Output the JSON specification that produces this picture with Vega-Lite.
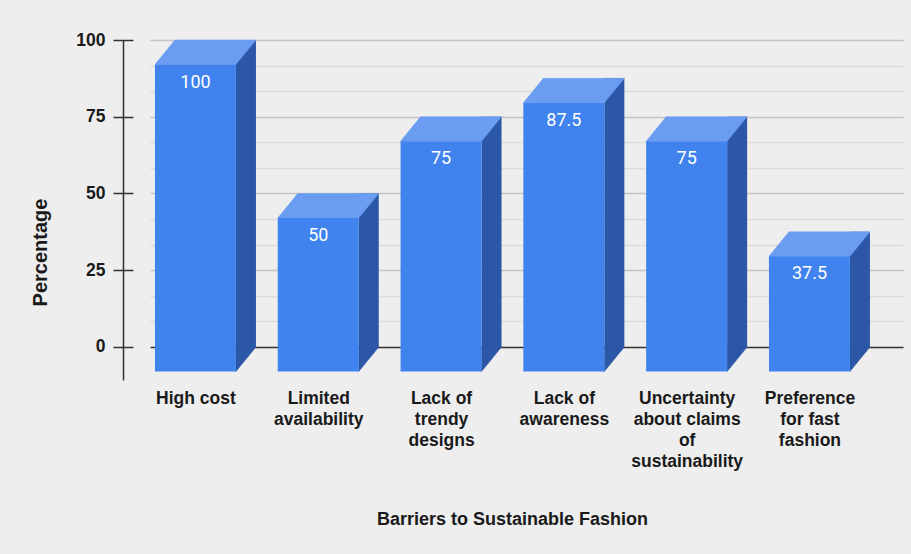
{
  "$schema": "https://vega.github.io/schema/vega-lite/v6.json",
  "width": 753,
  "height": 340,
  "autosize": "none",
  "padding": {"left": 150, "top": 40, "right": 8, "bottom": 174},
  "background": "#eeeeee",
  "config": {"view": {"stroke": null}, "font": "Liberation Sans"},
  "data": {
    "values": [
      {"barrier": "High cost", "percentage": 100},
      {"barrier": "Limited\navailability", "percentage": 50},
      {"barrier": "Lack of\ntrendy\ndesigns", "percentage": 75},
      {"barrier": "Lack of\nawareness", "percentage": 87.5},
      {"barrier": "Uncertainty\nabout claims\nof\nsustainability", "percentage": 75},
      {"barrier": "Preference\nfor fast\nfashion", "percentage": 37.5}
    ]
  },
  "encoding": {
    "x": {
      "field": "barrier",
      "type": "nominal",
      "sort": null,
      "scale": {"type": "point", "padding": 0.566, "align": 0.327},
      "axis": {
        "orient": "bottom",
        "domain": false,
        "ticks": false,
        "grid": false,
        "labelAngle": 0,
        "labelPadding": 9,
        "labelFont": "Liberation Sans",
        "labelFontWeight": "bold",
        "labelFontSize": 17.5,
        "labelColor": "#1a1a1a",
        "labelLineHeight": 21,
        "labelExpr": "split(datum.label, '\\n')",
        "title": "Barriers to Sustainable Fashion",
        "titleFont": "Liberation Sans",
        "titleFontWeight": "bold",
        "titleFontSize": 18,
        "titleColor": "#1a1a1a",
        "titleX": 362,
        "titleY": 144,
        "titleBaseline": "alphabetic",
        "titleAlign": "center"
      }
    },
    "y": {
      "field": "percentage",
      "type": "quantitative",
      "scale": {"domain": [-10.75, 100], "nice": false, "zero": false},
      "axis": {
        "orient": "left",
        "offset": 27,
        "values": [0, 8.333333, 16.666667, 25, 33.333333, 41.666667, 50, 58.333333, 66.666667, 75, 83.333333, 91.666667, 100],
        "labelExpr": "datum.value % 25 == 0 ? datum.label : ''",
        "labelOverlap": false,
        "labelFont": "Liberation Sans",
        "labelFontWeight": "bold",
        "labelFontSize": 17.5,
        "labelColor": "#1a1a1a",
        "labelPadding": 8,
        "tickSize": 10,
        "tickWidth": 1.5,
        "tickColor": "#333333",
        "tickOpacity": {"condition": {"test": "datum.value % 25 == 0", "value": 1}, "value": 0},
        "domainColor": "#333333",
        "domainWidth": 1.5,
        "grid": true,
        "gridWidth": 1.5,
        "gridColor": {
          "condition": [
            {"test": "datum.value == 0", "value": "#333333"},
            {"test": "datum.value % 25 == 0", "value": "#c4c4c4"}
          ],
          "value": "#dcdcdc"
        },
        "encoding": {"ticks": {"x": {"value": 10}, "x2": {"value": -10}}},
        "title": "Percentage",
        "titleFont": "Liberation Sans",
        "titleFontWeight": "bold",
        "titleFontSize": 20,
        "titleColor": "#1a1a1a",
        "titleAngle": -90,
        "titleX": -77,
        "titleY": 212,
        "titleAlign": "center",
        "titleBaseline": "alphabetic"
      }
    }
  },
  "layer": [
    {
      "mark": {"type": "bar", "width": 20, "xOffset": 50.5, "color": "#2b57a6"},
      "encoding": {
        "y2": {"datum": 0}
      }
    },
    {
      "mark": {"type": "point", "shape": "M40.5,0L60.5,0L40.5,24.5Z", "size": 4, "filled": true, "opacity": 1, "color": "#2b57a6", "stroke": "#2b57a6", "strokeWidth": 0.5},
      "encoding": {
        "y": {"datum": 0, "type": "quantitative"}
      }
    },
    {
      "mark": {"type": "point", "shape": "M-40.5,24.5L40.5,24.5L60.5,0L-20.5,0Z", "size": 4, "filled": true, "opacity": 1, "color": "#6a9cf1", "stroke": "#6a9cf1", "strokeWidth": 0.5}
    },
    {
      "mark": {"type": "bar", "width": 81, "yOffset": 24.5, "y2Offset": 24.5, "color": "#4083ef"},
      "encoding": {
        "y2": {"datum": 0}
      }
    },
    {
      "mark": {"type": "text", "yOffset": 42.5, "baseline": "middle", "align": "center", "font": "Roboto", "fontSize": 18, "color": "#ffffff"},
      "encoding": {
        "text": {"field": "percentage", "type": "quantitative"}
      }
    }
  ]
}
